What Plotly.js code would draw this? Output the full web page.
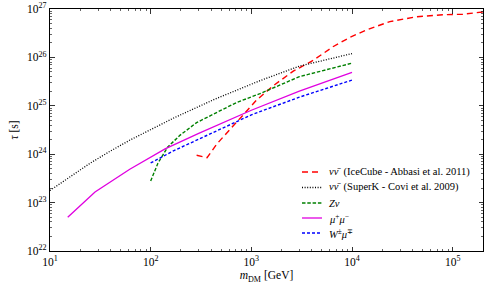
<!DOCTYPE html>
<html>
<head>
<meta charset="utf-8">
<script src="https://cdn.plot.ly/plotly-3.0.1.min.js"></script>
<style>html,body{margin:0;padding:0;background:#fff;}#chart{width:498px;height:285px;}</style>
</head>
<body>
<div id="chart"></div>
<script>
// IceCube - Abbasi et al. 2011 (nu nubar)
const iceX = [286, 363, 458, 771, 1130, 1650, 2610, 4120, 6460, 9550, 13960, 23770, 43650, 79430, 125900, 199500];
const iceY = [9.5e23, 8.5e23, 1.66e24, 5.5e24, 1.32e25, 2.6e25, 5.2e25, 8.7e25, 1.66e26, 2.6e26, 3.7e26, 5.5e26, 6.9e26, 7.6e26, 7.8e26, 8.7e26];
// SuperK - Covi et al. 2009 (nu nubar)
const skX = [10, 15.8, 25, 39.5, 62, 174, 437, 1216, 3000, 10000];
const skY = [1.78e23, 3.47e23, 6.5e23, 1.15e24, 1.95e24, 5.75e24, 1.38e25, 3.3e25, 6.6e25, 1.2e26];
// Z nu
const zX = [100, 118, 148, 195, 286, 452, 714, 1216, 3000, 10000];
const zY = [2.8e23, 6.5e23, 1.41e24, 2.45e24, 4.5e24, 7.3e24, 1.17e25, 1.78e25, 4.0e25, 7.6e25];
// mu+ mu-
const mmX = [15, 28, 62, 139, 300, 1000, 3000, 10000];
const mmY = [5.0e22, 1.66e23, 4.9e23, 1.29e24, 2.7e24, 8.1e24, 2.0e25, 4.9e25];
// W+- mu-+
const wX = [100, 168, 286, 1000, 3000, 10000];
const wY = [6.6e23, 1.17e24, 1.95e24, 6.5e24, 1.51e25, 3.4e25];

// tick labels
const xTickVals = [10, 100, 1000, 10000, 100000];
const xTickText = ['10<sup>1</sup>', '10<sup>2</sup>', '10<sup>3</sup>', '10<sup>4</sup>', '10<sup>5</sup>'];
const yTickVals = [1e22, 1e23, 1e24, 1e25, 1e26, 1e27];
const yTickText = ['10<sup>22</sup>', '10<sup>23</sup>', '10<sup>24</sup>', '10<sup>25</sup>', '10<sup>26</sup>', '10<sup>27</sup>'];

const names = [
  '<i>νν̄</i>  (IceCube - Abbasi et al. 2011)',
  '<i>νν̄</i>  (SuperK - Covi et al. 2009)',
  '<i>Zν</i>',
  '<i>μ</i><sup>+</sup><i>μ</i><sup>−</sup>',
  '<i>W</i><sup>±</sup><i>μ</i><sup>∓</sup>'
];
const styles = [
  {color:'#ff0000', dash:'6px,4px', width:1.4},
  {color:'#000000', dash:'1px,1.6px', width:1.3},
  {color:'#008000', dash:'3.5px,1.8px', width:1.4},
  {color:'#e000e0', dash:'solid', width:1.3},
  {color:'#0000ff', dash:'3px,2px', width:1.4}
];
const series = [[iceX, iceY],[skX, skY],[zX, zY],[mmX, mmY],[wX, wY]];

const traces = series.map((s,i)=>({
  x: s[0], y: s[1], mode:'lines', type:'scatter', name: names[i],
  line: {color: styles[i].color, dash: styles[i].dash, width: styles[i].width},
  showlegend:false, hoverinfo:'skip'
}));

// minor tick positions (2..9 within each decade)
function minorTicks(lo, hi) {
  const out = [];
  for (let e = lo; e < hi; e++) for (let m = 2; m <= 9; m++) out.push(m * Math.pow(10, e));
  return out;
}

// manual legend (compact, like the reference)
const L = 50, R = 483, T = 9, B = 251;
const px = v => (v - L)/(R - L);
const py = v => (B - v)/(B - T);
const rows = [172, 187.5, 203, 218, 233];
const shapes = [], annotations = [];
rows.forEach((r,i)=>{
  shapes.push({type:'line', xref:'paper', yref:'paper', x0:px(302), x1:px(322), y0:py(r), y1:py(r),
    line:{color:styles[i].color, dash:styles[i].dash, width:styles[i].width}});
  annotations.push({xref:'paper', yref:'paper', x:px(327), y:py(r), xanchor:'left', yanchor:'middle',
    text:names[i], showarrow:false, font:{family:'Liberation Serif, serif', size:10.5, color:'#000'}});
});

const fontT = {family:'Liberation Serif, serif', size:11.5, color:'#000'};
const axisCommon = {
  type:'log', showgrid:false, zeroline:false, showline:true, linecolor:'#000', linewidth:1.2,
  mirror:'allticks', ticks:'inside', ticklen:4.5, tickwidth:0.8, tickcolor:'#000',
  tickmode:'array', tickfont: fontT
};

const layout = {
  width:498, height:285,
  margin:{l:50, r:15, t:9, b:34},
  paper_bgcolor:'#fff', plot_bgcolor:'#fff',
  xaxis: Object.assign({}, axisCommon, {
    range:[1, Math.log10(2e5)],
    tickvals: xTickVals, ticktext: xTickText,
    minor:{tickmode:'array', tickvals: minorTicks(1, 6), ticks:'inside', ticklen:2.2, tickwidth:0.6, tickcolor:'#000', showgrid:false},
    title:{text:'<i>m</i><sub>DM</sub> [GeV]', font: fontT, standoff:4}
  }),
  yaxis: Object.assign({}, axisCommon, {
    range:[22, 27],
    tickvals: yTickVals, ticktext: yTickText,
    minor:{tickmode:'array', tickvals: minorTicks(22, 27), ticks:'inside', ticklen:2.2, tickwidth:0.6, tickcolor:'#000', showgrid:false},
    title:{text:'<i>τ</i> [s]', font: fontT, standoff:6}
  }),
  shapes: shapes,
  annotations: annotations,
  showlegend:false
};

Plotly.newPlot('chart', traces, layout, {staticPlot:true, displayModeBar:false});
</script>
</body>
</html>
